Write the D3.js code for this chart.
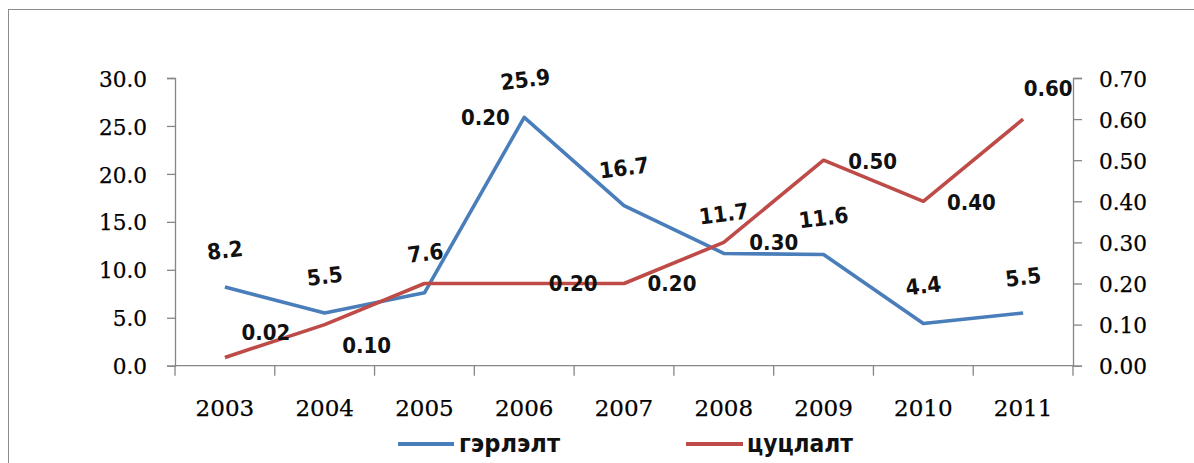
<!DOCTYPE html>
<html>
<head>
<meta charset="utf-8">
<script src="https://cdn.jsdelivr.net/npm/d3@7"></script>
<style>
  html, body { margin: 0; padding: 0; background: #fff; }
  svg { display: block; }
</style>
</head>
<body>
<svg id="chart" width="1194" height="463"></svg>
<script>
// ---- data ----
const years = ["2003", "2004", "2005", "2006", "2007", "2008", "2009", "2010", "2011"];
const marriage = [8.2, 5.5, 7.6, 25.9, 16.7, 11.7, 11.6, 4.4, 5.5];        // гэрлэлт (left axis)
const divorce = [0.02, 0.10, 0.20, 0.20, 0.20, 0.30, 0.50, 0.40, 0.60];    // цуцлалт (right axis)
const leftTicks = [0, 5, 10, 15, 20, 25, 30];
const rightTicks = [0, 0.1, 0.2, 0.3, 0.4, 0.5, 0.6, 0.7];
const seriesNames = ["гэрлэлт", "цуцлалт"];

// label nudges (layout only), [dx, dy] in px relative to the point
const marriageLabelNudge = [[0,-37],[0,-37],[1,-40],[1,-38],[0,-38],[0,-40],[0,-37],[0,-38],[0,-36]];
const divorceLabelNudge = [[41,-25],[42,20],[61,-166],[49,0],[48,0],[50,0],[49,1],[48,1],[25,-31]];

(function () {
const blue = "#4A7EBB", red = "#BE4B48", axisCol = "#868686";

const svg = d3.select("#chart");
// outer frame
svg.append("rect").attr("x", 8.5).attr("y", 9.5).attr("width", 1200).attr("height", 470)
  .attr("fill", "#fff").attr("stroke", "#8c8c8c").attr("stroke-width", 1);

const pLeft = 175, pRight = 1073, pTop = 78, pBottom = 365.7;
const x = d3.scaleBand().domain(years).range([pLeft, pRight]);
const yL = d3.scaleLinear().domain([0, 30]).range([pBottom, pTop]);
const yR = d3.scaleLinear().domain([0, 0.7]).range([pBottom, pTop]);
const cx = d => x(d) + x.bandwidth() / 2;

function stretch(sel, k) {
  sel.each(function () {
    const w = this.getComputedTextLength();
    d3.select(this).attr("textLength", w * k).attr("lengthAdjust", "spacingAndGlyphs");
  });
}

// left axis
const gL = svg.append("g").attr("transform", `translate(${pLeft},0)`)
  .call(d3.axisLeft(yL).tickValues(leftTicks).tickFormat(d3.format(".1f")).tickSize(8).tickPadding(20));
// right axis
const gR = svg.append("g").attr("transform", `translate(${pRight},0)`)
  .call(d3.axisRight(yR).tickValues(rightTicks).tickFormat(d3.format(".2f")).tickSize(9).tickPadding(17));
[gL, gR].forEach(g => {
  g.select(".domain").attr("stroke", axisCol).attr("stroke-width", 1.3);
  g.selectAll(".tick line").attr("stroke", axisCol).attr("stroke-width", 1.3);
  g.selectAll(".tick text").attr("font-family", "DejaVu Serif").attr("font-size", 22.5)
    .attr("fill", "#000").attr("dy", "0.36em").attr("stroke", "#000").attr("stroke-width", 0.25);
  stretch(g.selectAll(".tick text"), 0.96);
});

// bottom axis: line, boundary ticks, centred labels
const gB = svg.append("g");
gB.append("line").attr("x1", pLeft).attr("x2", pRight).attr("y1", pBottom).attr("y2", pBottom)
  .attr("stroke", axisCol).attr("stroke-width", 1.3);
const bounds = years.map(d => x(d)).concat([pRight]);
gB.selectAll(".bt").data(bounds).join("line")
  .attr("x1", d => d).attr("x2", d => d).attr("y1", pBottom).attr("y2", pBottom + 10)
  .attr("stroke", axisCol).attr("stroke-width", 1.3);
gB.selectAll(".yl").data(years).join("text")
  .attr("x", d => cx(d)).attr("y", 416).attr("text-anchor", "middle")
  .attr("font-family", "DejaVu Serif").attr("font-size", 23).attr("fill", "#000")
  .attr("stroke", "#000").attr("stroke-width", 0.25)
  .text(d => d);

// lines
const lineL = d3.line().x((d, i) => cx(years[i])).y(d => yL(d));
const lineR = d3.line().x((d, i) => cx(years[i])).y(d => yR(d));
svg.append("path").datum(marriage).attr("d", lineL).attr("fill", "none")
  .attr("stroke", blue).attr("stroke-width", 3.6).attr("stroke-linejoin", "round");
svg.append("path").datum(divorce).attr("d", lineR).attr("fill", "none")
  .attr("stroke", red).attr("stroke-width", 3.6).attr("stroke-linejoin", "round");

// data labels
const lb = svg.selectAll(".lblB").data(marriage).join("text")
  .attr("transform", (d, i) => `translate(${cx(years[i]) + marriageLabelNudge[i][0]},${yL(d) + marriageLabelNudge[i][1]}) rotate(-7)`)
  .attr("text-anchor", "middle").attr("dy", "0.36em")
  .attr("font-family", "DejaVu Sans").attr("font-weight", "bold").attr("font-size", 22).attr("fill", "#111")
  .text(d => d.toFixed(1));
stretch(lb, 0.92);
const lr = svg.selectAll(".lblR").data(divorce).join("text")
  .attr("x", (d, i) => cx(years[i]) + divorceLabelNudge[i][0])
  .attr("y", (d, i) => yR(d) + divorceLabelNudge[i][1])
  .attr("text-anchor", "middle").attr("dy", "0.36em")
  .attr("font-family", "DejaVu Sans").attr("font-weight", "bold").attr("font-size", 22).attr("fill", "#111")
  .text(d => d.toFixed(2));
stretch(lr, 0.9);

// legend
const legendItems = [
  { name: seriesNames[0], color: blue, x0: 398, x1: 454, tx: 459, w: 101 },
  { name: seriesNames[1], color: red, x0: 686, x1: 743, tx: 747, w: 106 }
];
const lg = svg.append("g");
legendItems.forEach(it => {
  lg.append("line").attr("x1", it.x0).attr("x2", it.x1).attr("y1", 444).attr("y2", 444)
    .attr("stroke", it.color).attr("stroke-width", 4);
  lg.append("text").attr("x", it.tx).attr("y", 452)
    .attr("font-family", "DejaVu Sans").attr("font-weight", "bold").attr("font-size", 24).attr("fill", "#111")
    .attr("textLength", it.w).attr("lengthAdjust", "spacingAndGlyphs")
    .text(it.name);
});
})();
</script>
</body>
</html>
